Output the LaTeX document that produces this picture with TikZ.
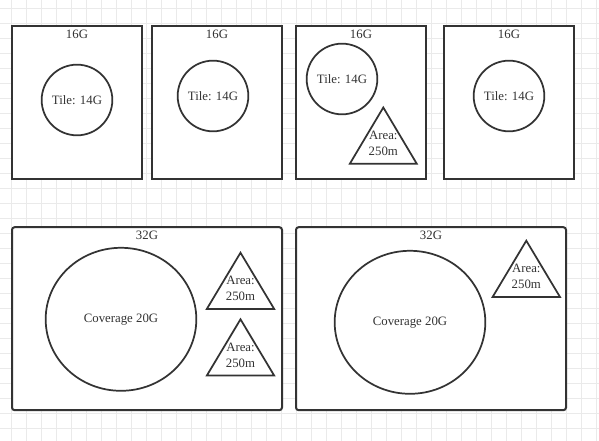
\documentclass[tikz,border=0pt]{standalone}
\usepackage{fontspec}
\setmainfont{Liberation Serif}
\usetikzlibrary{positioning,shapes.geometric}
\definecolor{TileInk}{RGB}{51,51,51}
\definecolor{TileGrid}{RGB}{234,234,234}
\tikzset{
  tile/box/.style={
    draw=TileInk,
    line width=1.5pt,
    fill=white,
    minimum width=97.5pt,
    minimum height=114.75pt,
    inner sep=0pt
  },
  tile/widebox/.style={
    draw=TileInk,
    line width=1.5pt,
    rounded corners=2pt,
    fill=white,
    minimum width=202.5pt,
    minimum height=137.25pt,
    inner sep=0pt
  },
  tile/circ/.style={
    circle,
    draw=TileInk,
    line width=1.3pt,
    fill=white,
    minimum size=53pt,
    inner sep=0pt,
    text=TileInk,
    font=\fontsize{9.6}{11.8}\selectfont
  },
  tile/cover/.style={
    ellipse,
    draw=TileInk,
    line width=1.3pt,
    fill=white,
    minimum width=113pt,
    minimum height=107.25pt,
    inner sep=0pt,
    text=TileInk,
    font=\fontsize{9.6}{11.8}\selectfont
  },
  tile/tri/.style={draw=TileInk, line width=1.3pt, fill=white, line join=miter},
  tile/txt/.style={inner sep=0pt, align=center, text=TileInk, font=\fontsize{9.6}{11.8}\selectfont},
  tile/cap/.style={inner sep=0pt, text=TileInk, font=\fontsize{9.6}{11.8}\selectfont},
  tile/grid/.style={draw=TileGrid, line width=0.75pt}
}

\begin{document}
\begin{tikzpicture}[x=0.75pt,y=-0.75pt]
  \useasboundingbox (0,0) rectangle (599,441);
  \fill[white] (0,0) rectangle (599,441);
  % background grid
  \foreach \gx in {0,...,39}
    \draw[tile/grid] ({11.7+15*\gx},0) -- ++(0,441);
  \foreach \gy in {0,...,29}
    \draw[tile/grid] (0,{8.3+15*\gy}) -- ++(599,0);

  % 16G tiles
  \node[tile/box] (box1) at (77,102.5) {};
  \node[tile/box] (box2) at (217,102.5) {};
  \node[tile/box] (box3) at (361,102.5) {};
  \node[tile/box] (box4) at (509,102.5) {};
  \node[tile/cap] (cap1) at (77,34) {16G};
  \node[tile/cap] (cap2) at (217,34) {16G};
  \node[tile/cap] (cap3) at (361,34) {16G};
  \node[tile/cap] (cap4) at (509,34) {16G};
  \node[tile/circ] (tile1) at (77,100) {Tile: 14G};
  \node[tile/circ] (tile2) at (213,96) {Tile: 14G};
  \node[tile/circ] (tile3) at (342,79) {Tile: 14G};
  \node[tile/circ] (tile4) at (509,96) {Tile: 14G};
  \coordinate (apex1) at (383.3,107.5);
  \draw[tile/tri] (apex1) -- ++(-33.5,56.3) -- ++(67,0) -- cycle;
  \node[tile/txt] (area1) at (383.3,143) {Area:\\250m};

  % 32G tiles
  \node[tile/widebox] (box5) at (147,318.7) {};
  \node[tile/widebox] (box6) at (431,318.7) {};
  \node[tile/cap] (cap5) at (147,235) {32G};
  \node[tile/cap] (cap6) at (431,235) {32G};
  \node[tile/cover] (cover1) at (121,319.3) {Coverage 20G};
  \node[tile/cover] (cover2) at (410,322.3) {Coverage 20G};
  \coordinate (apex2) at (240.5,252.7);
  \coordinate (apex3) at (240.5,319.3);
  \coordinate (apex4) at (526.3,240.7);
  \draw[tile/tri] (apex2) -- ++(-33.7,56.3) -- ++(67.4,0) -- cycle;
  \draw[tile/tri] (apex3) -- ++(-33.7,56.3) -- ++(67.4,0) -- cycle;
  \draw[tile/tri] (apex4) -- ++(-33.7,56.3) -- ++(67.4,0) -- cycle;
  \node[tile/txt] (area2) at (240.5,288) {Area:\\250m};
  \node[tile/txt] (area3) at (240.5,355) {Area:\\250m};
  \node[tile/txt] (area4) at (526.3,276) {Area:\\250m};
\end{tikzpicture}
\end{document}
